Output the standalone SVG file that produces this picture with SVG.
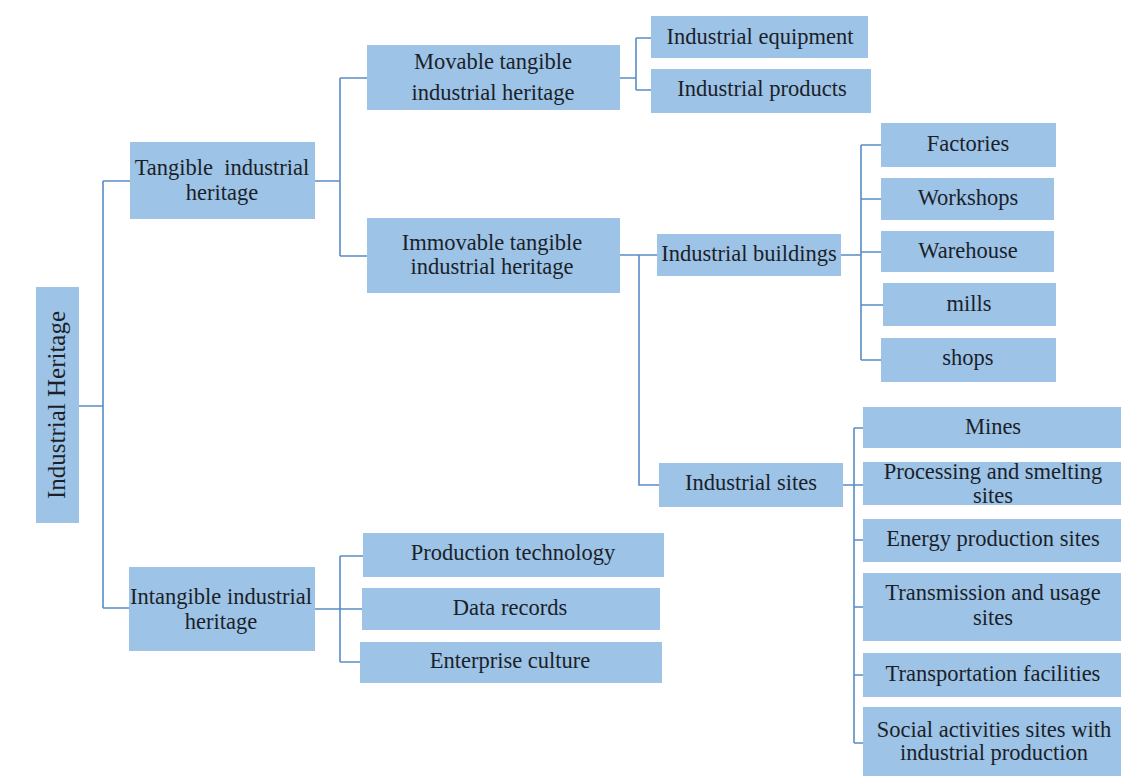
<svg xmlns="http://www.w3.org/2000/svg" width="1121" height="776" viewBox="0 0 1121 776">
<style>
.box{fill:#9dc3e6;}
.t{font-family:"Liberation Serif","Times New Roman",serif;font-size:22.5px;fill:#1b1f2a;text-anchor:middle;white-space:pre;}
.c{fill:none;stroke:#5a8cc6;stroke-width:1.6;}
</style>
<rect width="1121" height="776" fill="#ffffff"/>
<g id="connectors" class="c">
<path d="M79,406 H103 M103,181 V608 M103,181 H130 M103,608 H130"/>
<path d="M315,181 H340 M340,78 V256 M340,78 H367 M340,256 H367"/>
<path d="M620,78 H636 M636,38 V90 M636,38 H651 M636,90 H651"/>
<path d="M620,255 H657 M639,255 V485 H659"/>
<path d="M841,255 H861 M861,145 V360 M861,145 H881 M861,199 H881 M861,252 H881 M861,305 H883 M861,360 H881"/>
<path d="M843,485 H854 M854,428 V743 M854,428 H863 M854,485 H863 M854,540 H863 M854,607 H863 M854,675 H863 M854,743 H863"/>
<path d="M315,609 H340 M340,556 V662 M340,556 H363 M340,609 H362 M340,662 H360"/>
</g>
<g id="n-root"><rect class="box" x="36" y="287" width="43" height="236"/><text class="t" style="font-size:25px" transform="translate(65,405) rotate(-90)" x="0" y="0">Industrial Heritage</text></g>
<g id="n-tangible"><rect class="box" x="130" y="142" width="185" height="77"/><text class="t" x="222" y="175" xml:space="preserve">Tangible  industrial</text><text class="t" x="222" y="200">heritage</text></g>
<g id="n-intangible"><rect class="box" x="129" y="567" width="186" height="84"/><text class="t" x="221" y="604">Intangible industrial</text><text class="t" x="221" y="629">heritage</text></g>
<g id="n-movable"><rect class="box" x="367" y="45" width="253" height="65"/><text class="t" x="493" y="69">Movable tangible</text><text class="t" x="493" y="100">industrial heritage</text></g>
<g id="n-immovable"><rect class="box" x="367" y="218" width="253" height="75"/><text class="t" x="492" y="250">Immovable tangible</text><text class="t" x="492" y="274">industrial heritage</text></g>
<g id="n-equipment"><rect class="box" x="651" y="16" width="217" height="42"/><text class="t" x="760" y="44">Industrial equipment</text></g>
<g id="n-products"><rect class="box" x="651" y="69" width="220" height="44"/><text class="t" x="762" y="96">Industrial products</text></g>
<g id="n-buildings"><rect class="box" x="657" y="234" width="184" height="42"/><text class="t" x="749" y="261">Industrial buildings</text></g>
<g id="n-factories"><rect class="box" x="881" y="123" width="175" height="44"/><text class="t" x="968" y="151">Factories</text></g>
<g id="n-workshops"><rect class="box" x="881" y="178" width="173" height="42"/><text class="t" x="968" y="205">Workshops</text></g>
<g id="n-warehouse"><rect class="box" x="881" y="231" width="173" height="41"/><text class="t" x="968" y="258">Warehouse</text></g>
<g id="n-mills"><rect class="box" x="883" y="283" width="173" height="43"/><text class="t" x="969" y="311">mills</text></g>
<g id="n-shops"><rect class="box" x="881" y="338" width="175" height="44"/><text class="t" x="968" y="365">shops</text></g>
<g id="n-sites"><rect class="box" x="659" y="463" width="184" height="44"/><text class="t" x="751" y="490">Industrial sites</text></g>
<g id="n-mines"><rect class="box" x="863" y="407" width="258" height="41"/><text class="t" x="993" y="434">Mines</text></g>
<g id="n-processing"><rect class="box" x="863" y="462" width="258" height="43"/><text class="t" x="993" y="479">Processing and smelting</text><text class="t" x="993" y="503">sites</text></g>
<g id="n-energy"><rect class="box" x="863" y="519" width="258" height="43"/><text class="t" x="993" y="546">Energy production sites</text></g>
<g id="n-transmission"><rect class="box" x="863" y="573" width="258" height="68"/><text class="t" x="993" y="600">Transmission and usage</text><text class="t" x="993" y="625">sites</text></g>
<g id="n-transportation"><rect class="box" x="863" y="653" width="258" height="44"/><text class="t" x="993" y="681">Transportation facilities</text></g>
<g id="n-social"><rect class="box" x="863" y="707" width="258" height="69"/><text class="t" x="994" y="737">Social activities sites with</text><text class="t" x="994" y="760">industrial production</text></g>
<g id="n-production"><rect class="box" x="363" y="533" width="301" height="44"/><text class="t" x="513" y="560">Production technology</text></g>
<g id="n-data"><rect class="box" x="362" y="588" width="298" height="42"/><text class="t" x="510" y="615">Data records</text></g>
<g id="n-enterprise"><rect class="box" x="360" y="642" width="302" height="41"/><text class="t" x="510" y="668">Enterprise culture</text></g>
</svg>
